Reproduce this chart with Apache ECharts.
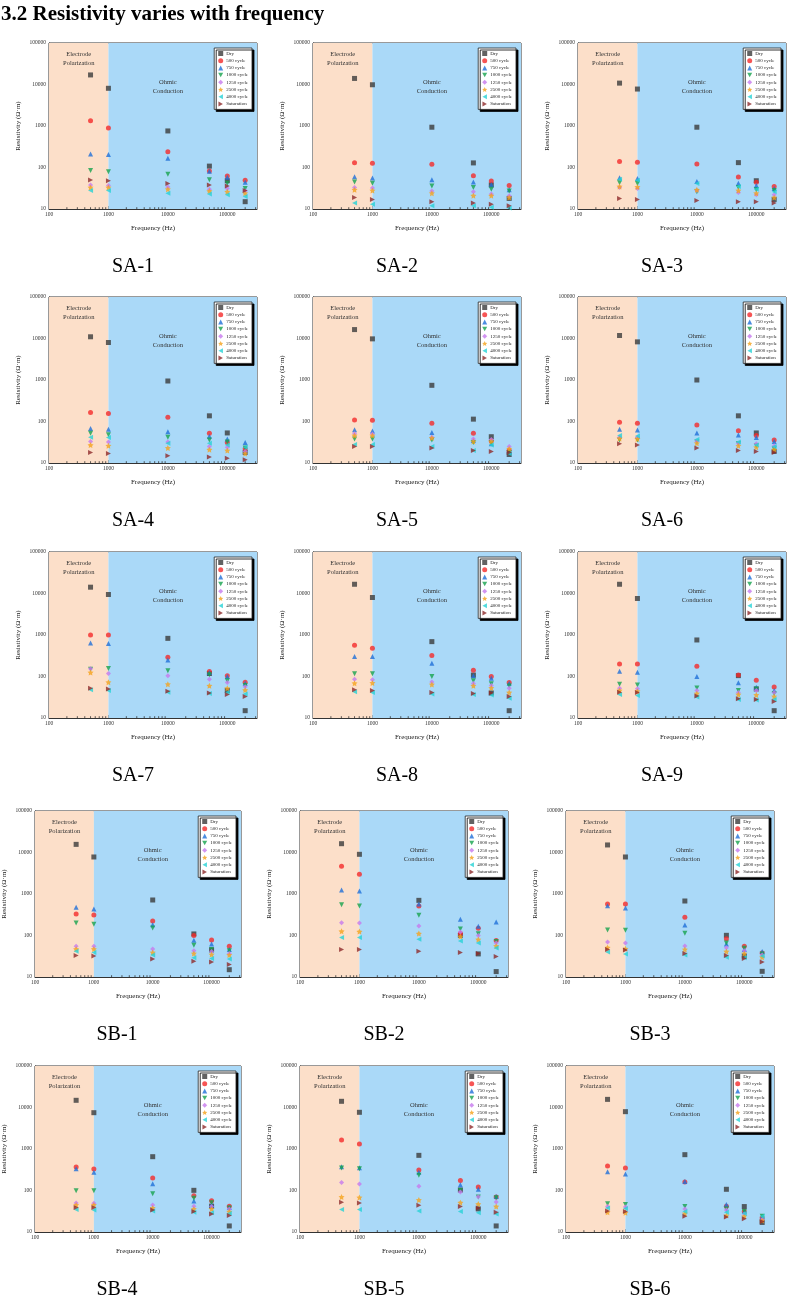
<!DOCTYPE html>
<html>
<head>
<meta charset="utf-8">
<script src="https://cdn.jsdelivr.net/npm/echarts@6/dist/echarts.min.js"></script>
<style>
html,body{margin:0;padding:0;background:#fff;}
#chart{width:789px;height:1295px;}
</style>
</head>
<body>
<div id="chart"></div>
<script>
// measured frequencies (Hz), same in every panel
var freqs = [500, 1000, 10000, 50000, 100000, 200000];
var seriesNames = ['Dry', '500 cycle', '750 cycle', '1000 cycle', '1250 cycle', '2500 cycle', '4000 cycle', 'Saturation'];
var panelNames = ['SA-1', 'SA-2', 'SA-3', 'SA-4', 'SA-5', 'SA-6', 'SA-7', 'SA-8', 'SA-9',
                  'SB-1', 'SB-2', 'SB-3', 'SB-4', 'SB-5', 'SB-6'];
var xTickLabels = [100, 1000, 10000, 100000];
var yTickLabels = [10, 100, 1000, 10000, 100000];

// resistivity (Ω·m): one row per series (seriesNames order), one column per freq
var SA1 = [
  [17000, 8100, 760, 108, 48, 15],
  [1330, 900, 240, 82, 62, 49],
  [211, 207, 166, 81, 58, 44],
  [85, 79, 69, 51, 42, 31],
  [38, 37, 34, 30, 31, 27],
  [33, 33, 30, 27, 26, 24],
  [28, 28, 24, 23, 22, 20],
  [50, 48, 41, 38, 36, 28]
];
var SA2 = [
  [14000, 9860, 935, 129, 38, 18],
  [131, 127, 120, 63, 47, 37],
  [60, 56, 51, 45, 39, 29],
  [45, 42, 36, 33, 30, 27],
  [33, 32, 27, 26, 23, 21],
  [29, 28, 24, 21, 21, 19],
  [14, 13, 12, 12, 11, 10.5],
  [19, 17, 15, 14, 13, 12]
];
var SA3 = [
  [10800, 7770, 935, 131, 48, 17],
  [139, 134, 122, 59, 44, 35],
  [57, 54, 46, 42, 37, 31],
  [43, 41, 26, 33, 29, 28],
  [33, 31, 28, 25, 22, 22],
  [35, 34, 29, 28, 24, 19],
  [52, 49, 41, 35, 30, 26],
  [18, 17, 16, 15, 15, 14]
];
var SA4 = [
  [11000, 8000, 946, 137, 53, 18],
  [164, 155, 127, 52, 31, 22],
  [68, 65, 57, 44, 38, 31],
  [52, 48, 42, 36, 32, 23],
  [33, 32, 32, 25, 24, 19],
  [27, 26, 23, 21, 20, 17],
  [42, 41, 30, 30, 27, 24],
  [18, 17, 15, 14, 13, 12]
];
var SA5 = [
  [16400, 9800, 745, 114, 43, 16],
  [108, 107, 91, 52, 34, 20],
  [63, 59, 54, 35, 29, 19],
  [38, 38, 36, 31, 31, 18],
  [51, 50, 42, 38, 37, 25],
  [46, 46, 40, 33, 33, 22],
  [28, 28, 25, 20, 27, 17],
  [25, 25, 23, 20, 19, 18]
];
var SA6 = [
  [11800, 8300, 1000, 137, 53, 19],
  [96, 91, 82, 60, 46, 36],
  [65, 62, 53, 47, 41, 33],
  [36, 36, 32, 29, 26, 22],
  [42, 42, 34, 30, 29, 26],
  [39, 38, 30, 26, 24, 21],
  [46, 45, 37, 32, 27, 25],
  [29, 27, 23, 20, 19, 18]
];
var SA7 = [
  [14200, 9460, 830, 118, 46, 15],
  [1000, 1000, 291, 132, 104, 73],
  [643, 620, 251, 125, 100, 69],
  [150, 156, 137, 110, 79, 61],
  [153, 118, 104, 86, 72, 57],
  [125, 73, 65, 60, 52, 47],
  [48, 46, 42, 39, 41, 38],
  [52, 50, 44, 40, 37, 33]
];
var SA8 = [
  [16700, 8000, 692, 108, 40, 15],
  [565, 479, 319, 142, 100, 72],
  [302, 302, 209, 104, 91, 69],
  [116, 116, 100, 79, 67, 59],
  [86, 83, 74, 68, 61, 52],
  [69, 70, 64, 60, 53, 41],
  [43, 41, 38, 37, 36, 30],
  [48, 46, 41, 39, 40, 33]
];
var SA9 = [
  [16700, 7590, 759, 105, 50, 15],
  [201, 201, 177, 108, 81, 56],
  [134, 127, 100, 71, 55, 46],
  [65, 62, 53, 46, 50, 39],
  [52, 51, 46, 41, 46, 41],
  [46, 44, 39, 37, 36, 33],
  [37, 35, 32, 28, 27, 28],
  [42, 41, 34, 29, 28, 25]
];
var SB1 = [
  [15700, 7800, 717, 109, 45, 15],
  [330, 312, 224, 100, 78, 55],
  [477, 435, 182, 77, 62, 46],
  [200, 186, 152, 58, 46, 43],
  [55, 55, 47, 43, 41, 37],
  [47, 47, 39, 37, 35, 34],
  [42, 39, 34, 29, 28, 27],
  [33, 32, 27, 24, 23, 20]
];
var SB2 = [
  [16300, 9040, 703, 101, 36, 13.5],
  [4640, 2980, 514, 111, 149, 76],
  [1250, 1180, 574, 245, 166, 211],
  [553, 514, 306, 144, 110, 72],
  [204, 200, 169, 121, 100, 66],
  [126, 124, 111, 94, 80, 56],
  [89, 89, 81, 74, 66, 50],
  [46, 46, 42, 39, 37, 31]
];
var SB3 = [
  [15200, 7800, 678, 101, 32, 13.7],
  [574, 574, 274, 84, 55, 38],
  [523, 460, 179, 62, 46, 41],
  [136, 133, 113, 66, 49, 36],
  [70, 66, 56, 51, 43, 34],
  [51, 48, 46, 41, 37, 30],
  [40, 36, 34, 30, 29, 32],
  [46, 45, 37, 33, 28, 23]
];
var SB4 = [
  [14900, 7500, 653, 101, 42, 14],
  [368, 330, 200, 75, 57, 42],
  [336, 274, 146, 56, 45, 39],
  [99, 98, 84, 65, 51, 38],
  [50, 49, 45, 42, 41, 36],
  [45, 45, 38, 36, 36, 31],
  [35, 34, 32, 30, 29, 28],
  [39, 39, 34, 31, 27, 25]
];
var SB5 = [
  [14100, 7660, 703, 103, 36, 14],
  [1650, 1320, 312, 173, 121, 70],
  [375, 355, 274, 138, 107, 72],
  [348, 336, 232, 100, 70, 67],
  [155, 144, 126, 92, 71, 53],
  [70, 68, 59, 51, 47, 41],
  [35, 35, 32, 31, 29, 27],
  [52, 50, 44, 41, 38, 30]
];
var SB6 = [
  [15700, 7940, 730, 107, 41, 17],
  [389, 348, 160, 42, 31, 22],
  [284, 250, 165, 46, 31, 23],
  [48, 46, 41, 36, 31, 24],
  [41, 40, 36, 34, 27, 20],
  [30, 29, 28, 25, 24, 19],
  [38, 37, 31, 30, 28, 24],
  [32, 31, 24, 23, 21, 18]
];
var panels = [SA1, SA2, SA3, SA4, SA5, SA6, SA7, SA8, SA9, SB1, SB2, SB3, SB4, SB5, SB6];

// layout
var colLeftSA = [49, 313, 578];
var colLeftSB = [33, 300, 566];
var rowTop = [43, 297, 552, 811, 1066];
var gridW = 208, gridH = 166;
var xMax = 316228;
var font = 'Liberation Serif';

var colors = ['#3b3b3b', '#f42a2a', '#1f6fd8', '#17a24e', '#c779ee', '#f5a21c', '#26d2d6', '#8e2b2b'];
// marker shapes as paths so the legend shows the same orientation
var star = 'path://M0,-10L2.9,-4L9.5,-3.1L4.8,1.5L5.9,8.1L0,5L-5.9,8.1L-4.8,1.5L-9.5,-3.1L-2.9,-4Z';
var triDown = 'path://M0,0L10,0L5,9Z';
var triLeft = 'path://M0,5L9,0L9,10Z';
var triRight = 'path://M0,0L9,5L0,10Z';
var symbols = ['rect', 'circle', 'triangle', triDown, 'diamond', star, triLeft, triRight];

// minor tick values on the frequency axis
var minorX = [];
for (var d = 100; d < xMax; d *= 10) {
  for (var m = 2; m <= 9; m++) { if (d * m < xMax) minorX.push(d * m); }
}

function isPow10(v) {
  var l = Math.log10(v);
  return Math.abs(l - Math.round(l)) < 1e-6;
}

var grids = [], xAxes = [], yAxes = [], series = [], legends = [], graphics = [];

graphics.push({
  type: 'text', x: 1, y: 15,
  style: { text: '3.2 Resistivity varies with frequency', fontFamily: font, fontSize: 21,
           fontWeight: 'bold', fill: '#000', verticalAlign: 'middle' }
});

var legendData = seriesNames.map(function (n, k) { return { name: n, icon: symbols[k] }; });

panels.forEach(function (vals, i) {
  var r = Math.floor(i / 3), c = i % 3;
  var left = (r < 3 ? colLeftSA : colLeftSB)[c];
  var top = rowTop[r];
  grids.push({ left: left, top: top, width: gridW, height: gridH,
               show: true, borderColor: '#333', borderWidth: 1, backgroundColor: 'transparent' });
  xAxes.push({
    type: 'log', gridIndex: i, min: 100, max: xMax, logBase: 10,
    name: 'Frequency (Hz)', nameLocation: 'middle', nameGap: 16,
    nameTextStyle: { fontFamily: font, fontSize: 7, color: '#222' },
    axisLine: { lineStyle: { color: '#333', width: 1 } },
    axisTick: { inside: true, length: 3, lineStyle: { color: '#333' } },
    axisLabel: { fontFamily: font, fontSize: 5.5, color: '#333', margin: 3,
                 showMaxLabel: false,
                 formatter: function (v) { return isPow10(v) && xTickLabels.indexOf(Math.round(v)) >= 0 ? String(Math.round(v)) : ''; } },
    splitLine: { show: false }
  });
  yAxes.push({
    type: 'log', gridIndex: i, min: 10, max: 100000, logBase: 10,
    name: 'Resistivity (Ω·m)', nameLocation: 'middle', nameGap: 27,
    nameTextStyle: { fontFamily: font, fontSize: 7, color: '#222' },
    axisLine: { lineStyle: { color: '#333', width: 1 } },
    axisTick: { inside: true, length: 3, lineStyle: { color: '#333' } },
    axisLabel: { fontFamily: font, fontSize: 5.5, color: '#333', margin: 3,
                 formatter: function (v) { return isPow10(v) && yTickLabels.indexOf(Math.round(v)) >= 0 ? String(Math.round(v)) : ''; } },
    splitLine: { show: false }
  });

  vals.forEach(function (row, k) {
    var s = {
      name: seriesNames[k], type: 'scatter', xAxisIndex: i, yAxisIndex: i,
      symbol: symbols[k], symbolSize: k === 5 ? 6 : 5,
      itemStyle: { color: colors[k] },
      data: freqs.map(function (f, j) { return [f, row[j]]; }),
      z: 4
    };
    if (k === 0) {
      s.markArea = {
        silent: true,
        data: [
          [{ xAxis: 100, itemStyle: { color: '#fcdfc9' },
             label: { show: true, position: 'insideTop', distance: 7, formatter: 'Electrode\nPolarization',
                      fontFamily: font, fontSize: 6.5, lineHeight: 9, color: '#333' } },
           { xAxis: 1000 }],
          [{ xAxis: 1000, itemStyle: { color: '#aad9f8' }, label: { show: false } },
           { xAxis: xMax }]
        ]
      };
      s.markPoint = {
        silent: true, symbol: 'rect', symbolSize: 0,
        data: [{ coord: [10000, 9000] }],
        label: { show: true, position: 'inside', formatter: 'Ohmic\nConduction',
                 fontFamily: font, fontSize: 6.5, lineHeight: 9, color: '#333' }
      };
    }
    series.push(s);
  });

  series.push({
    type: 'custom', xAxisIndex: i, yAxisIndex: i, silent: true, z: 5,
    data: minorX.map(function (v) { return [v, 10]; }),
    renderItem: function (params, api) {
      var p = api.coord([api.value(0), api.value(1)]);
      return { type: 'line', shape: { x1: p[0], y1: p[1], x2: p[0], y2: p[1] - 1.8 },
               style: { stroke: '#333', lineWidth: 0.8 } };
    }
  });

  legends.push({
    data: legendData, orient: 'vertical',
    right: 789 - (left + gridW) + 5, top: top + 5,
    itemWidth: 5, itemHeight: 5, itemGap: 2.2,
    padding: [3, 4, 3, 4],
    backgroundColor: '#fff', borderColor: '#222', borderWidth: 0.8,
    shadowColor: '#000', shadowOffsetX: 2, shadowOffsetY: 2, shadowBlur: 0,
    selectedMode: false,
    textStyle: { fontFamily: font, fontSize: 5, color: '#222', padding: [0, 0, 0, -2] }
  });

  graphics.push({
    type: 'text', x: left + 84, y: top + gridH + 58,
    style: { text: panelNames[i], fontFamily: font, fontSize: 20, fill: '#000',
             align: 'center', verticalAlign: 'middle' }
  });
});

var chart = echarts.init(document.getElementById('chart'), null, { renderer: 'canvas' });
chart.setOption({
  animation: false,
  backgroundColor: '#fff',
  grid: grids,
  xAxis: xAxes,
  yAxis: yAxes,
  legend: legends,
  series: series,
  graphic: graphics
});
</script>
</body>
</html>
